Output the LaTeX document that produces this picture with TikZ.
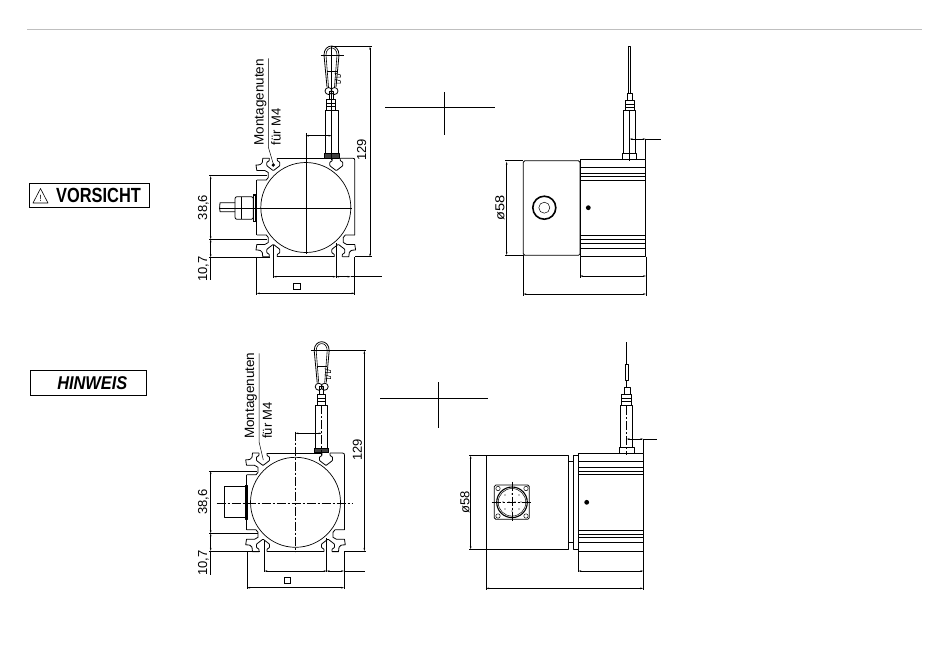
\documentclass[tikz,border=0pt]{standalone}
\usepackage{fontspec}
\setmainfont{Liberation Sans}
\usetikzlibrary{arrows.meta}
\tikzset{
	body/.style={line width=.8pt, line join=round},
	thin line/.style={line width=.5pt},
	dim/.style={line width=.5pt, {Stealth[length=3pt,width=1.6pt]}-{Stealth[length=3pt,width=1.6pt]}},
	axis/.style={line width=.6pt, dash pattern=on 9pt off 2pt on 2pt off 2pt},
	label/.style={font=\fontsize{13}{13}\selectfont, inner sep=0pt, rotate=90},
	long label/.style={font=\fontsize{13.5}{13.5}\selectfont, inner sep=0pt, rotate=90},
}
% T slot, opening at the origin
\newcommand{\tslot}[1]{
	\draw[body, rounded corners=.6pt, shift={(#1)}] (-4,0) -- (-4,2.5) -- (-6.5,4) -- (-6.5,7.5) -- (0,12.5) -- (6.5,7.5) -- (6.5,4) -- (4,2.5) -- (4,0);
}
% corner of the profile, drawn for the upper left
\newcommand{\profcorner}{
	\draw[body] (-49,-27.5) -- (-39.5,-27.5) -- (-37.5,-30) -- (-37.5,-35) -- (-41,-37) -- (-49,-37) -- (-49.8,-42.5) .. controls (-46,-42.5) and (-44,-43) .. (-43.5,-45) -- (-43,-49.3) -- (-36.5,-49.3);
	\tslot{-32.5,-49.3}
}
% housing seen from the front
\newcommand{\profil}{
	\begin{scope}[yscale=1]\profcorner\end{scope}
	\begin{scope}[yscale=-1]\profcorner\end{scope}
	\begin{scope}[xscale=-1,yscale=-1]\profcorner\end{scope}
	\tslot{30.5,-49.3}
	\draw[body] (-28.5,-49.3) -- (26.5,-49.3);
	\draw[body] (34.5,-49.3) -- (47,-49.3) .. controls (48.5,-49.3) and (49,-48.5) .. (49,-47) -- (49,27.5);
	\draw[body] (-49,-27.5) -- (-49,27.5);
	\draw[body] (-28.5,49.3) -- (28.5,49.3);
	\draw[line width=.7pt] (0,0) circle (45);
}
% snap hook with its swivel, top of the loop at the origin
\newcommand{\haken}{
	\draw[body] (-4.5,41) -- (-7.5,9) .. controls (-7.5,-3) and (7.5,-3) .. (7.5,9) -- (4.5,41);
	\draw[line width=.6pt] (-3,41) -- (-5.5,9) .. controls (-5.5,-.5) and (5.5,-.5) .. (5.5,9) -- (3,41);
	\draw[body] (-3,45) circle (3.5);
	\draw[body] (3,45) circle (3.5);
	\draw[thin line] (-11,9) -- (12,9);
	\draw[thin line] (-5,25) -- (5,25);
	\draw[thin line] (3,27) -- (9,29) -- (9,31) -- (4,31);
	\draw[thin line] (3,33) -- (9,35) -- (9,37) -- (4,37);
	\draw[body] (-2,45) rectangle (2,53);
}
% lines across the sensor housing
\newcommand{\rillen}[4]{
	\foreach \yy in {#3} \draw[body] (#1,\yy) -- (#2,\yy);
	\foreach \yy in {#4} \draw[body] (#1,\yy) -- (#2,\yy);
}
\begin{document}
\begin{tikzpicture}[x=1pt, y=-1pt]
	\useasboundingbox (0,0) rectangle (950,657);
	\draw[line width=.6pt, black!25] (27,29) -- (922,29);

	% labels on the left
	\node[draw, line width=.8pt, minimum width=120pt, minimum height=24pt, inner sep=0pt] (V) at (89.3,195.3) {};
	\node[inner sep=0pt, font=\bfseries\fontsize{20.5}{20.5}\selectfont] (VT) at (98.5,195.6) {\scalebox{.8}[1]{VORSICHT}};
	\draw[line width=.6pt, line join=round] (33,203) -- (48,203) -- (40.5,188.5) -- cycle;
	\node[inner sep=0pt, font=\fontsize{9}{9}\selectfont] (VA) at (40.5,198.5) {!};
	\node[draw, line width=.8pt, minimum width=116pt, minimum height=25pt, inner sep=0pt] (H) at (88.7,382.8) {};
	\node[inner sep=0pt, font=\bfseries\itshape\fontsize{18.5}{18.5}\selectfont] (HT) at (92.3,383.6) {\scalebox{.885}[1]{HINWEIS}};

	% upper front view
	\begin{scope}[shift={(305.8,207.5)}]
		\profil
	\end{scope}
	\draw[thin line] (305.8,133) -- (305.8,254);
	\draw[line width=.6pt] (219,208.3) -- (352,208.3);
	\draw[body] (235,202.7) -- (220,202.7) .. controls (218,206) and (221,208) .. (220,211.7) -- (235,211.7);
	\draw[body, rounded corners=2pt] (235,196.7) -- (253.3,196.7) -- (253.3,219.3) -- (235,219.3) -- cycle;
	\draw[line width=1.2pt] (253.3,195) rectangle (255.7,221.7);
	\draw[thin line] (241,196.7) -- (241,219.3);
	\begin{scope}[shift={(331.5,46)}]
		\haken
	\end{scope}
	\draw[body] (326.7,99.3) rectangle (335.7,110);
	\draw[thin line] (326.7,103) -- (335.7,103) (326.7,106.5) -- (335.7,106.5);
	\draw[body] (325.3,110) rectangle (338.3,153.3);
	\draw[body, fill=black!75] (324,153.3) rectangle (339.3,158.5);
	\draw[thin line] (331.7,46) -- (331.7,160);
	\draw[dim] (305.8,135.7) -- (331.7,135.7);
	\draw[dim] (370,46.7) -- (370,256.7);
	\draw[thin line] (331.7,46.7) -- (372,46.7) (355,256.7) -- (372,256.7);
	\node[label] (A1) at (361.7,150) {129};
	\node[long label, anchor=west] (M1) at (260.5,145.5) {Montagenuten};
	\node[label, anchor=west] (F1) at (276,145.5) {für M4};
	\draw[thin line] (268.3,58.3) -- (268.3,147) -- (273.3,164);
	\fill (273.3,165) circle (1.8);
	\draw[dim] (210.7,176) -- (210.7,239.3);
	\draw[dim] (210.7,239.3) -- (210.7,257.3);
	\draw[thin line] (210.7,257.3) -- (210.7,280);
	\draw[thin line] (209,175.5) -- (267,175.5) (209,239.3) -- (267,239.3) (209,257.3) -- (270,257.3);
	\node[label] (B1) at (203.3,207.5) {38,6};
	\node[label] (C1) at (203.3,269) {10,7};
	\draw[thin line] (256.7,257) -- (256.7,295) (354.7,257) -- (354.7,295);
	\draw[dim] (256.7,293.3) -- (354.7,293.3);
	\draw[thin line] (273.3,245) -- (273.3,278) (336,243) -- (336,278);
	\draw[dim] (273.3,276.7) -- (336,276.7);
	\draw[dim] (336,276.7) -- (350.7,276.7);
	\draw[thin line] (350.7,276.7) -- (381.7,276.7);
	\node[draw, line width=.6pt, minimum width=7pt, minimum height=6pt, inner sep=0pt] (Q1) at (297,286.3) {};
	\draw[thin line] (385,107) -- (495,107) (444,92) -- (444,135);

	% upper side view
	\draw[body, rounded corners=1.5pt] (523.3,160.7) rectangle (580,255.3);
	\draw[body] (580,159.3) rectangle (645.7,256.7);
	\rillen{580}{645.7}{167.3,173.3,176.7,180.7}{235,239.3,243.3,248.3}
	\draw[line width=1.6pt] (544.3,207.7) circle (11.5);
	\draw[thin line] (544.3,207.7) circle (5.5);
	\fill (588.3,207.7) circle (2.4);
	\draw[body] (628.3,46.7) rectangle (630.3,93);
	\draw[body] (627.7,93) rectangle (632.7,100);
	\draw[body] (625,100) rectangle (634.3,110.7);
	\draw[thin line] (625,104) -- (634.3,104) (625,107) -- (634.3,107);
	\draw[body] (623.3,110.7) rectangle (635.7,153.3);
	\draw[body] (622.3,153.3) rectangle (636.7,159.3);
	\draw[thin line] (629.7,110) -- (629.7,161);
	\draw[dim] (629.7,139) -- (645.7,139);
	\draw[thin line] (645.7,139) -- (661,139) (645.7,139) -- (645.7,159.3);
	\draw[dim] (506.7,161.7) -- (506.7,255);
	\draw[thin line] (505,160.7) -- (523.3,160.7) (505,255.3) -- (523.3,255.3);
	\node[label] (D1) at (500,207.5) {\scalebox{1.12}[1]{ø58}};
	\draw[thin line] (523.3,255.3) -- (523.3,295.5) (646,256.7) -- (646,295.5) (580,256.7) -- (580,277.5);
	\draw[dim] (580,276) -- (646,276);
	\draw[dim] (523.3,294) -- (646,294);

	% lower front view
	\begin{scope}[shift={(295.5,502.3)}]
		\profil
	\end{scope}
	\draw[axis] (216.7,503.3) -- (353,503.3);
	\draw[axis] (295.3,431.7) -- (295.3,551.7);
	\draw[body] (224,486.7) rectangle (245,517.3);
	\draw[body] (245,485) rectangle (247,519);
	\begin{scope}[shift={(321.7,341.7)}]
		\haken
	\end{scope}
	\draw[body] (317.7,394.3) rectangle (325.7,405.7);
	\draw[thin line] (317.7,398) -- (325.7,398) (317.7,401.5) -- (325.7,401.5);
	\draw[body] (315,405.7) rectangle (327.3,448.3);
	\draw[body, fill=black!75] (314,448.3) rectangle (328.7,452.7);
	\draw[axis] (321.7,405) -- (321.7,455);
	\draw[dim] (295.3,433.3) -- (321.7,433.3);
	\draw[dim] (364.3,350.7) -- (364.3,551);
	\draw[thin line] (321.7,350.5) -- (366,350.5) (344,551) -- (366,551);
	\node[label] (A2) at (357.3,450) {129};
	\node[long label, anchor=west] (M2) at (251,439) {Montagenuten};
	\node[label, anchor=west] (F2) at (267.3,439) {für M4};
	\draw[thin line] (259,353.3) -- (259,441.7) -- (263.3,460);
	\draw[dim] (210.7,471) -- (210.7,533.3);
	\draw[dim] (210.7,533.3) -- (210.7,551);
	\draw[thin line] (210.7,551) -- (210.7,575);
	\draw[thin line] (209,471) -- (257,471) (209,533.3) -- (258,533.3) (209,551) -- (260,551);
	\node[label] (B2) at (203.3,502.3) {38,6};
	\node[label] (C2) at (203.3,563.3) {10,7};
	\draw[thin line] (247,551) -- (247,589) (344,551) -- (344,589);
	\draw[dim] (247,587.7) -- (344,587.7);
	\draw[thin line] (264.3,540) -- (264.3,572) (326.7,538) -- (326.7,572);
	\draw[dim] (264.3,571) -- (326.7,571);
	\draw[dim] (326.7,571) -- (344,571);
	\draw[thin line] (344,571) -- (365,571);
	\node[draw, line width=.6pt, minimum width=6.5pt, minimum height=6pt, inner sep=0pt] (Q2) at (287.5,580.3) {};
	\draw[thin line] (380,398) -- (488,398) (438,382) -- (438,428);

	% lower side view
	\draw[body] (486,455.7) rectangle (568.3,549.3);
	\draw[body] (568.3,461) rectangle (573.3,542.3);
	\draw[body] (573.3,455.7) rectangle (578.3,549.3);
	\draw[body] (578.3,453.3) rectangle (643.3,551);
	\rillen{578.3}{643.3}{461,467.7,471,474.3}{530,534,537.7,542.3}
	\fill (586.7,502.3) circle (2.4);
	\draw[body, rounded corners=1.5pt] (494.3,485) rectangle (529.3,519.3);
	\draw[line width=1.1pt] (512,502.3) circle (15.3);
	\draw[thin line] (512,502.3) circle (13.8);
	\foreach \px in {498,526}
		\foreach \py in {488.5,516}
			\draw[thin line] (\px,\py) circle (2.2);
	\foreach \px/\py in {505/495,512/494,519/495,503/502,509/502,515/502,521/502,505/509,512/511,519/509}
		\fill (\px,\py) circle (.7);
	\draw[axis] (491.7,502.3) -- (531,502.3);
	\draw[axis] (512,481.7) -- (512,521);
	\draw[line width=1.5pt] (626.7,342.3) -- (626.7,364.3);
	\draw[body] (625,364.3) rectangle (628.7,380);
	\draw[line width=1.5pt] (626.7,380) -- (626.7,387.7);
	\draw[body] (624.3,387.7) rectangle (630,394.3);
	\draw[body] (621.7,394.3) rectangle (631.7,405.7);
	\draw[thin line] (621.7,398) -- (631.7,398) (621.7,401.5) -- (631.7,401.5);
	\draw[body] (620.7,405.7) rectangle (632.7,447.7);
	\draw[body] (619.3,447.7) rectangle (634.3,453.3);
	\draw[axis] (626.7,406) -- (626.7,455);
	\draw[dim] (626.7,439) -- (643.3,439);
	\draw[thin line] (643.3,439) -- (656.7,439) (643.3,439) -- (643.3,453.3);
	\draw[dim] (470.7,455.7) -- (470.7,549.3);
	\draw[thin line] (469,455.7) -- (486,455.7) (469,549.3) -- (486,549.3);
	\node[label] (D2) at (465,502.3) {ø58};
	\draw[thin line] (486,549.3) -- (486,589.5) (643.3,551) -- (643.3,589.5) (578.3,551) -- (578.3,572);
	\draw[dim] (578.3,571) -- (643.3,571);
	\draw[dim] (486,588.3) -- (643.3,588.3);
\end{tikzpicture}
\end{document}
